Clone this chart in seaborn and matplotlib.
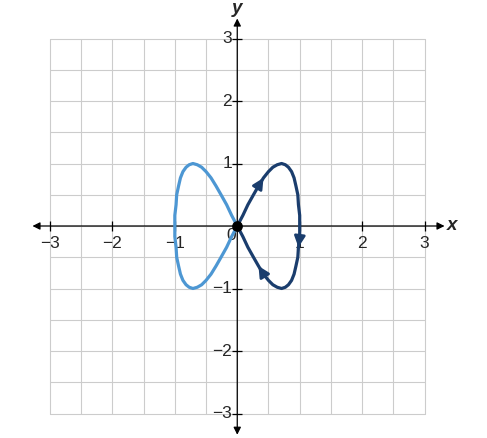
import seaborn as sns
import matplotlib.pyplot as plt

# parametric curve x = sin t, y = sin 2t at every 5 degrees of t
right_x = [0, .09, .17, .26, .34, .42, .50, .57, .64, .71, .77, .82, .87, .91, .94, .97, .98, 1.0, 1.0,
           1.0, .98, .97, .94, .91, .87, .82, .77, .71, .64, .57, .50, .42, .34, .26, .17, .09, 0]
right_y = [0, .17, .34, .50, .64, .77, .87, .94, .98, 1.0, .98, .94, .87, .77, .64, .50, .34, .17, 0,
           -.17, -.34, -.50, -.64, -.77, -.87, -.94, -.98, -1.0, -.98, -.94, -.87, -.77, -.64, -.50, -.34, -.17, 0]
left_x = [0, -.09, -.17, -.26, -.34, -.42, -.50, -.57, -.64, -.71, -.77, -.82, -.87, -.91, -.94, -.97, -.98, -1.0, -1.0,
          -1.0, -.98, -.97, -.94, -.91, -.87, -.82, -.77, -.71, -.64, -.57, -.50, -.42, -.34, -.26, -.17, -.09, 0]
left_y = right_y

ticks = [-3, -2, -1, 1, 2, 3]
grid_steps = [-3, -2.5, -2, -1.5, -1, -0.5, 0, 0.5, 1, 1.5, 2, 2.5, 3]
arrow_idx = [(4, 5), (19, 20), (31, 32)]  # segments of the right lobe carrying arrowheads

light = "#4d97d3"
dark = "#1a3d6d"

sns.set_style("white")
plt.rcParams['font.family'] = ['Liberation Sans', 'DejaVu Sans']

fig = plt.figure(figsize=(4.87, 4.38), dpi=100)
ax = fig.add_axes([0, 0, 1, 1])
ax.set_xlim(-3.8, 4.0)
ax.set_ylim(-3.392, 3.616)
ax.axis("off")

# grid
for g in grid_steps:
    ax.plot([g, g], [-3, 3], color="#cccccc", lw=0.8, zorder=0)
    ax.plot([-3, 3], [g, g], color="#cccccc", lw=0.8, zorder=0)

# axes with arrows on both ends
ap = dict(arrowstyle="<|-|>", color="black", lw=0.9, mutation_scale=11, shrinkA=0, shrinkB=0)
ax.annotate("", xy=(3.32, 0), xytext=(-3.28, 0), arrowprops=ap, zorder=2)
ax.annotate("", xy=(0, 3.32), xytext=(0, -3.34), arrowprops=ap, zorder=2)
ax.scatter(ticks, [0] * len(ticks), marker="|", s=60, color="black", lw=0.9, zorder=2)
ax.scatter([0] * len(ticks), ticks, marker="_", s=60, color="black", lw=0.9, zorder=2)

for t in ticks:
    lab = str(t).replace("-", "\u2212")
    ax.text(t, -0.16, lab, ha="center", va="top", fontsize=12.5)
    ax.text(-0.085, t, lab, ha="right", va="center", fontsize=12.5)
ax.text(-0.1, -0.16, "0", ha="center", va="center", fontsize=12.5)
ax.text(3.36, 0, "x", ha="left", va="center", fontsize=13.5, style="italic", fontweight="bold")
ax.text(0, 3.48, "y", ha="center", va="center", fontsize=13.5, style="italic", fontweight="bold")

# curves
sns.lineplot(x=left_x, y=left_y, sort=False, estimator=None, color=light, lw=2.3, ax=ax, zorder=3)
sns.lineplot(x=right_x, y=right_y, sort=False, estimator=None, color=dark, lw=2.3, ax=ax, zorder=3)

for i, j in arrow_idx:
    ax.annotate("", xy=(right_x[j], right_y[j]), xytext=(right_x[i], right_y[i]),
                arrowprops=dict(arrowstyle="-|>", color=dark, lw=2, mutation_scale=16,
                                shrinkA=0, shrinkB=0), zorder=4)

ax.scatter([0], [0], s=45, color="black", zorder=5)

fig.savefig("out.png", dpi=100)
